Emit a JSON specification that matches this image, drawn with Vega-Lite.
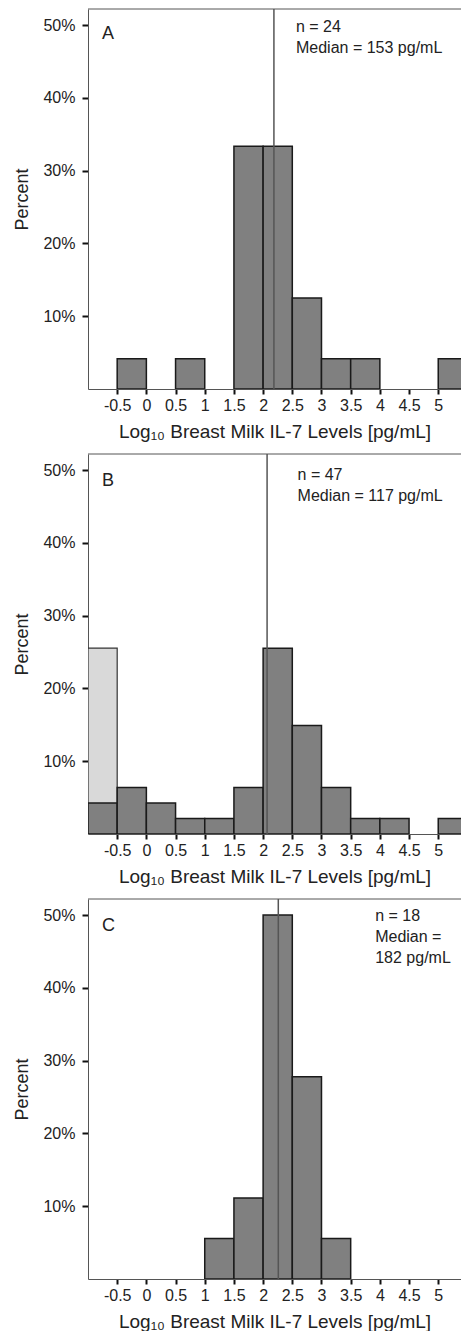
{
  "$schema": "https://vega.github.io/schema/vega-lite/v6.json",
  "padding": {"left": 13, "top": 8, "right": 0, "bottom": 0},
  "spacing": 12,
  "config": {
    "font": "Liberation Sans",
    "view": {"stroke": null},
    "axis": {"grid": false, "labelFontSize": 16, "titleFontSize": 19, "titleFontWeight": "normal", "labelColor": "#222", "titleColor": "#222", "domainColor": "#555", "domainWidth": 1, "tickColor": "#111", "tickWidth": 2, "labelFlush": false, "labelOverlap": false, "labelSeparation": 0},
    "axisX": {"tickSize": 5, "labelPadding": 3, "titlePadding": 9},
    "axisY": {"tickSize": 6, "labelPadding": 7, "titlePadding": 11, "titleFontSize": 18}
  },
  "datasets": {
    "bins": [
      {"panel": "A", "group": "detected", "lo": -0.5, "hi": 0, "pct": 4.17},
      {"panel": "A", "group": "detected", "lo": 0.5, "hi": 1, "pct": 4.17},
      {"panel": "A", "group": "detected", "lo": 1.5, "hi": 2, "pct": 33.33},
      {"panel": "A", "group": "detected", "lo": 2, "hi": 2.5, "pct": 33.33},
      {"panel": "A", "group": "detected", "lo": 2.5, "hi": 3, "pct": 12.5},
      {"panel": "A", "group": "detected", "lo": 3, "hi": 3.5, "pct": 4.17},
      {"panel": "A", "group": "detected", "lo": 3.5, "hi": 4, "pct": 4.17},
      {"panel": "A", "group": "detected", "lo": 5, "hi": 5.5, "pct": 4.17},
      {"panel": "B", "group": "below detection", "lo": -1, "hi": -0.5, "pct": 25.53},
      {"panel": "B", "group": "detected", "lo": -1, "hi": -0.5, "pct": 4.26},
      {"panel": "B", "group": "detected", "lo": -0.5, "hi": 0, "pct": 6.38},
      {"panel": "B", "group": "detected", "lo": 0, "hi": 0.5, "pct": 4.26},
      {"panel": "B", "group": "detected", "lo": 0.5, "hi": 1, "pct": 2.13},
      {"panel": "B", "group": "detected", "lo": 1, "hi": 1.5, "pct": 2.13},
      {"panel": "B", "group": "detected", "lo": 1.5, "hi": 2, "pct": 6.38},
      {"panel": "B", "group": "detected", "lo": 2, "hi": 2.5, "pct": 25.53},
      {"panel": "B", "group": "detected", "lo": 2.5, "hi": 3, "pct": 14.89},
      {"panel": "B", "group": "detected", "lo": 3, "hi": 3.5, "pct": 6.38},
      {"panel": "B", "group": "detected", "lo": 3.5, "hi": 4, "pct": 2.13},
      {"panel": "B", "group": "detected", "lo": 4, "hi": 4.5, "pct": 2.13},
      {"panel": "B", "group": "detected", "lo": 5, "hi": 5.5, "pct": 2.13},
      {"panel": "C", "group": "detected", "lo": 1, "hi": 1.5, "pct": 5.56},
      {"panel": "C", "group": "detected", "lo": 1.5, "hi": 2, "pct": 11.11},
      {"panel": "C", "group": "detected", "lo": 2, "hi": 2.5, "pct": 50},
      {"panel": "C", "group": "detected", "lo": 2.5, "hi": 3, "pct": 27.78},
      {"panel": "C", "group": "detected", "lo": 3, "hi": 3.5, "pct": 5.56}
    ],
    "medians": [
      {"panel": "A", "n": 24, "median": 153, "log_median": 2.185},
      {"panel": "B", "n": 47, "median": 117, "log_median": 2.068},
      {"panel": "C", "n": 18, "median": 182, "log_median": 2.26}
    ]
  },
  "vconcat": [
    {
      "width": 373, "height": 380,
      "layer": [
        {
          "data": {"name": "bins"},
          "transform": [{"filter": "datum.panel === 'A' && datum.group === 'detected'"}],
          "mark": {"type": "bar", "fill": "#808080", "stroke": "#1a1a1a", "strokeWidth": 1.5, "clip": true},
          "encoding": {
            "x": {"field": "lo", "type": "quantitative", "scale": {"domain": [-1, 5.39], "nice": false, "zero": false},
                  "axis": {"title": "Log₁₀ Breast Milk IL-7 Levels [pg/mL]", "values": [-0.5, 0, 0.5, 1, 1.5, 2, 2.5, 3, 3.5, 4, 4.5, 5], "tickCount": 40, "labelExpr": "'' + datum.value", "labelOverlap": false}},
            "x2": {"field": "hi"},
            "y": {"field": "pct", "type": "quantitative", "scale": {"domain": [0, 52.2], "nice": false},
                  "axis": {"title": "Percent", "values": [10, 20, 30, 40, 50], "tickCount": 20, "labelExpr": "datum.value + '%'", "labelOverlap": false}},
            "y2": {"datum": 0}
          }
        },
        {
          "data": {"name": "medians"},
          "transform": [{"filter": "datum.panel === 'A'"}],
          "mark": {"type": "rule", "stroke": "#555", "strokeWidth": 1.5},
          "encoding": {"x": {"field": "log_median", "type": "quantitative", "axis": {"labelOverlap": false}}}
        },
        {
          "data": {"name": "medians"},
          "transform": [{"filter": "datum.panel === 'A'"}],
          "mark": {"type": "rule", "stroke": "#555", "strokeWidth": 1},
          "encoding": {"y": {"datum": 52.2, "axis": {"labelOverlap": false}}}
        },
        {
          "data": {"name": "medians"},
          "transform": [{"filter": "datum.panel === 'A'"}],
          "mark": {"type": "text", "text": "A", "fontSize": 18, "color": "#222", "align": "left", "baseline": "alphabetic"},
          "encoding": {"x": {"datum": -0.76, "axis": {"labelOverlap": false}}, "y": {"datum": 48.1, "axis": {"labelOverlap": false}}}
        },
        {
          "data": {"name": "medians"},
          "transform": [{"filter": "datum.panel === 'A'"}],
          "mark": {"type": "text", "text": ["n = 24", "Median = 153 pg/mL"], "fontSize": 16, "lineHeight": 21, "color": "#222", "align": "left", "baseline": "alphabetic"},
          "encoding": {"x": {"datum": 2.563, "axis": {"labelOverlap": false}}, "y": {"datum": 49.0, "axis": {"labelOverlap": false}}}
        }
      ]
    },
    {
      "width": 373, "height": 380,
      "layer": [
        {
          "data": {"name": "bins"},
          "transform": [{"filter": "datum.panel === 'B' && datum.group === 'below detection'"}],
          "mark": {"type": "bar", "fill": "#d9d9d9", "stroke": "#333", "strokeWidth": 1.2, "clip": true},
          "encoding": {
            "x": {"field": "lo", "type": "quantitative", "scale": {"domain": [-1, 5.39], "nice": false, "zero": false},
                  "axis": {"title": "Log₁₀ Breast Milk IL-7 Levels [pg/mL]", "values": [-0.5, 0, 0.5, 1, 1.5, 2, 2.5, 3, 3.5, 4, 4.5, 5], "tickCount": 40, "labelExpr": "'' + datum.value", "labelOverlap": false}},
            "x2": {"field": "hi"},
            "y": {"field": "pct", "type": "quantitative", "scale": {"domain": [0, 52.2], "nice": false},
                  "axis": {"title": "Percent", "values": [10, 20, 30, 40, 50], "tickCount": 20, "labelExpr": "datum.value + '%'", "labelOverlap": false}},
            "y2": {"datum": 0}
          }
        },
        {
          "data": {"name": "bins"},
          "transform": [{"filter": "datum.panel === 'B' && datum.group === 'detected'"}],
          "mark": {"type": "bar", "fill": "#808080", "stroke": "#1a1a1a", "strokeWidth": 1.5, "clip": true},
          "encoding": {
            "x": {"field": "lo", "type": "quantitative", "axis": {"labelOverlap": false}},
            "x2": {"field": "hi"},
            "y": {"field": "pct", "type": "quantitative", "axis": {"labelOverlap": false}},
            "y2": {"datum": 0}
          }
        },
        {
          "data": {"name": "medians"},
          "transform": [{"filter": "datum.panel === 'B'"}],
          "mark": {"type": "rule", "stroke": "#555", "strokeWidth": 1.5},
          "encoding": {"x": {"field": "log_median", "type": "quantitative", "axis": {"labelOverlap": false}}}
        },
        {
          "data": {"name": "medians"},
          "transform": [{"filter": "datum.panel === 'B'"}],
          "mark": {"type": "rule", "stroke": "#555", "strokeWidth": 1},
          "encoding": {"y": {"datum": 52.2, "axis": {"labelOverlap": false}}}
        },
        {
          "data": {"name": "medians"},
          "transform": [{"filter": "datum.panel === 'B'"}],
          "mark": {"type": "text", "text": "B", "fontSize": 18, "color": "#222", "align": "left", "baseline": "alphabetic"},
          "encoding": {"x": {"datum": -0.76, "axis": {"labelOverlap": false}}, "y": {"datum": 47.8, "axis": {"labelOverlap": false}}}
        },
        {
          "data": {"name": "medians"},
          "transform": [{"filter": "datum.panel === 'B'"}],
          "mark": {"type": "text", "text": ["n = 47", "Median = 117 pg/mL"], "fontSize": 16, "lineHeight": 21, "color": "#222", "align": "left", "baseline": "alphabetic"},
          "encoding": {"x": {"datum": 2.59, "axis": {"labelOverlap": false}}, "y": {"datum": 48.6, "axis": {"labelOverlap": false}}}
        }
      ]
    },
    {
      "width": 373, "height": 380,
      "layer": [
        {
          "data": {"name": "bins"},
          "transform": [{"filter": "datum.panel === 'C' && datum.group === 'detected'"}],
          "mark": {"type": "bar", "fill": "#808080", "stroke": "#1a1a1a", "strokeWidth": 1.5, "clip": true},
          "encoding": {
            "x": {"field": "lo", "type": "quantitative", "scale": {"domain": [-1, 5.39], "nice": false, "zero": false},
                  "axis": {"title": "Log₁₀ Breast Milk IL-7 Levels [pg/mL]", "values": [-0.5, 0, 0.5, 1, 1.5, 2, 2.5, 3, 3.5, 4, 4.5, 5], "tickCount": 40, "labelExpr": "'' + datum.value", "labelOverlap": false}},
            "x2": {"field": "hi"},
            "y": {"field": "pct", "type": "quantitative", "scale": {"domain": [0, 52.2], "nice": false},
                  "axis": {"title": "Percent", "values": [10, 20, 30, 40, 50], "tickCount": 20, "labelExpr": "datum.value + '%'", "labelOverlap": false}},
            "y2": {"datum": 0}
          }
        },
        {
          "data": {"name": "medians"},
          "transform": [{"filter": "datum.panel === 'C'"}],
          "mark": {"type": "rule", "stroke": "#555", "strokeWidth": 1.5},
          "encoding": {"x": {"field": "log_median", "type": "quantitative", "axis": {"labelOverlap": false}}}
        },
        {
          "data": {"name": "medians"},
          "transform": [{"filter": "datum.panel === 'C'"}],
          "mark": {"type": "rule", "stroke": "#555", "strokeWidth": 1},
          "encoding": {"y": {"datum": 52.2, "axis": {"labelOverlap": false}}}
        },
        {
          "data": {"name": "medians"},
          "transform": [{"filter": "datum.panel === 'C'"}],
          "mark": {"type": "text", "text": "C", "fontSize": 18, "color": "#222", "align": "left", "baseline": "alphabetic"},
          "encoding": {"x": {"datum": -0.76, "axis": {"labelOverlap": false}}, "y": {"datum": 47.8, "axis": {"labelOverlap": false}}}
        },
        {
          "data": {"name": "medians"},
          "transform": [{"filter": "datum.panel === 'C'"}],
          "mark": {"type": "text", "text": ["n = 18", "Median =", "182 pg/mL"], "fontSize": 16, "lineHeight": 21, "color": "#222", "align": "left", "baseline": "alphabetic"},
          "encoding": {"x": {"datum": 3.92, "axis": {"labelOverlap": false}}, "y": {"datum": 49.2, "axis": {"labelOverlap": false}}}
        }
      ]
    }
  ]
}
